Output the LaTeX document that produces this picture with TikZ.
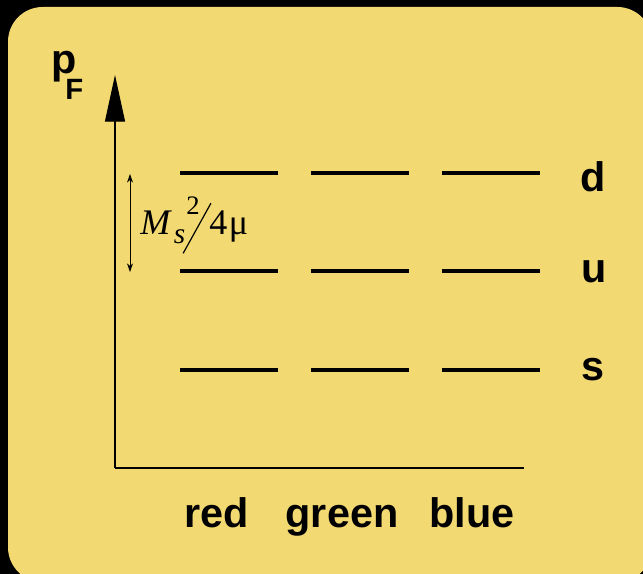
\documentclass[tikz,border=0pt]{standalone}
\usepackage{fontspec}
\setmainfont{Liberation Sans}
\newfontfamily\timesfont{Liberation Serif}
\usetikzlibrary{arrows.meta, positioning}
\definecolor{paper}{RGB}{243,217,114}

\begin{document}
\begin{tikzpicture}[
  x=0.75pt, y=-0.75pt,
  every node/.style={inner sep=0pt, font=\bfseries\fontsize{31}{36}\selectfont},
  level/.style={line width=2.4pt},
  axis/.style={line width=0.9pt},
  gap/.style={line width=0.7pt, {Stealth[length=6.5pt,width=4.5pt]}-{Stealth[length=6.5pt,width=4.5pt]}},
  tag/.style={anchor=base}
]
\useasboundingbox (0,0) rectangle (643,574);

% Background
\fill[black] (0,0) rectangle (643,574);
\fill[paper, rounded corners=26pt] (8,7) rectangle (652,582);

% Axes
\coordinate (origin) at (115,468);
\coordinate (ytop) at (115,75);
\coordinate (xend) at (524,468);
\draw[axis, -{Triangle[length=35pt,width=15pt]}] (origin) -- (ytop);
\draw[axis] (origin) -- (xend);
\node[anchor=base west] (pvar) at (51,74) {p};
\node[anchor=base west, font=\bfseries\fontsize{22}{24}\selectfont] (pidx) at (65,100) {F};

% Levels
\foreach \y/\name in {173/d, 271/u, 370/s}{
  \foreach \x in {180, 311, 442}
    \draw[level] (\x,\y) -- ++(98,0);
}
\node[tag] (dlab) at (593,192) {d};
\node[tag] (ulab) at (594,282) {u};
\node[tag] (slab) at (593,380) {s};

% Colours
\node[tag] (red) at (217,527) {red};
\node[tag] (green) at (342,527) {green};
\node[tag] (blue) at (472,527) {blue};

% Splitting
\coordinate (gaptop) at (130,174);
\coordinate (gapbot) at (130,272);
\draw[gap] (gaptop) -- (gapbot);
\node[anchor=base west, font=\timesfont\mdseries\fontsize{27}{30}\selectfont] (split) at (140,234)
  {\textit{M}\kern1.5pt\raisebox{-6.75pt}{\fontsize{22}{24}\selectfont\itshape s}\kern0.75pt\raisebox{15pt}{\fontsize{20}{22}\selectfont 2}\kern-12.75pt\raisebox{-14.25pt}{\rotatebox{-29}{\rule{0.9pt}{42.9pt}}}\kern-1.5pt 4\kern1pt μ};

\end{tikzpicture}
\end{document}
